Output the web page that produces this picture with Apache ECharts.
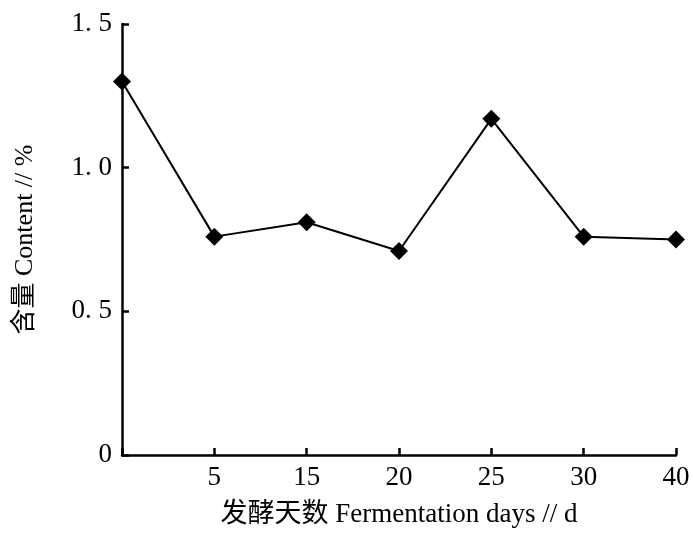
<!DOCTYPE html>
<html>
<head>
<meta charset="utf-8">
<script src="https://cdn.jsdelivr.net/npm/echarts@6/dist/echarts.min.js"></script>
<style>html,body{margin:0;padding:0;background:#fff}#c{width:693px;height:534px}</style>
</head>
<body>
<div id="c"></div>
<script>
var categories = ['', '5', '15', '20', '25', '30', '40'];
var contentValues = [1.30, 0.76, 0.81, 0.71, 1.17, 0.76, 0.75];
var yTickValues = [0, 0.5, 1.0, 1.5];
var yTickLabels = ['0', '0. 5', '1. 0', '1. 5'];
var xAxisName = '发酵天数 Fermentation days // d';
var yAxisName = '含量 Content // %';

var fontFam = '"Liberation Serif", "Noto Sans CJK SC", serif';
var chart = echarts.init(document.getElementById('c'), null, {renderer: 'canvas'});
chart.setOption({
  backgroundColor: '#fff',
  animation: false,
  grid: {left: 122, right: 17, top: 24, bottom: 79, containLabel: false},
  xAxis: {
    type: 'category',
    data: categories,
    boundaryGap: false,
    name: xAxisName,
    nameLocation: 'middle',
    nameGap: 46,
    nameTextStyle: {fontFamily: fontFam, fontSize: 27, color: '#000'},
    axisLine: {lineStyle: {color: '#000', width: 2.5}},
    axisTick: {inside: true, length: 7, lineStyle: {color: '#000', width: 2.5}},
    axisLabel: {fontFamily: fontFam, fontSize: 27, color: '#000', margin: 9, interval: 0},
    splitLine: {show: false}
  },
  yAxis: {
    type: 'value',
    min: 0, max: 1.5, interval: 0.5,
    name: yAxisName,
    nameLocation: 'middle',
    nameGap: 84,
    nameTextStyle: {fontFamily: fontFam, fontSize: 26, color: '#000'},
    axisLine: {show: true, lineStyle: {color: '#000', width: 2.5}},
    axisTick: {show: true, inside: true, length: 7, lineStyle: {color: '#000', width: 2.5}},
    axisLabel: {
      fontFamily: fontFam, fontSize: 27, color: '#000', margin: 10,
      formatter: function (v) {
        var i = yTickValues.findIndex(function (t) { return Math.abs(t - v) < 1e-9; });
        return i >= 0 ? yTickLabels[i] : '';
      }
    },
    splitLine: {show: false}
  },
  series: [{
    type: 'line',
    data: contentValues,
    symbol: 'diamond',
    symbolSize: 18,
    itemStyle: {color: '#000'},
    lineStyle: {color: '#000', width: 2},
    clip: false
  }]
});
</script>
</body>
</html>
